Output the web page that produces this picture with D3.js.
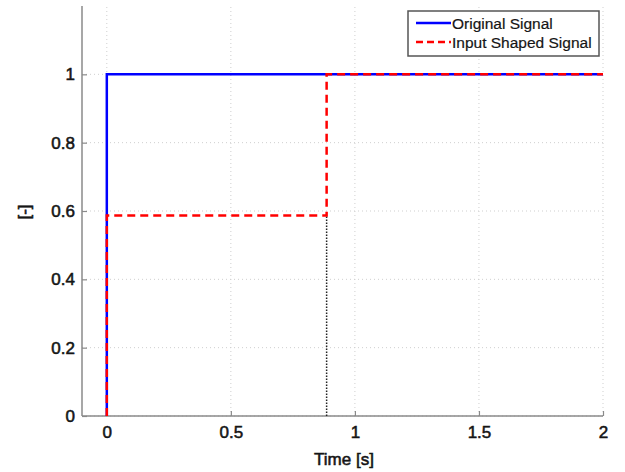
<!DOCTYPE html>
<html><head><meta charset="utf-8">
<script src="https://cdn.jsdelivr.net/npm/d3@7"></script>
<style>body{margin:0;background:#fff}svg{display:block}</style>
</head><body>
<svg id="c" width="625" height="472"></svg>
<script>
// Data
const xTicks = [0, 0.5, 1, 1.5, 2];
const xTickLabels = ["0", "0.5", "1", "1.5", "2"];
const yTicks = [0, 0.2, 0.4, 0.6, 0.8, 1];
const yTickLabels = ["0", "0.2", "0.4", "0.6", "0.8", "1"];
const originalT = [0, 0, 2];
const originalY = [0, 1, 1];
const shapedT = [0, 0, 0.886, 0.886, 2];
const shapedY = [0, 0.587, 0.587, 1, 1];
const markerT = [0.886, 0.886];
const markerY = [0, 0.587];
const seriesNames = ["Original Signal", "Input Shaped Signal"];

const svg = d3.select("#c");
const x = d3.scaleLinear().domain([-0.1, 2]).range([82, 603]);
const y = d3.scaleLinear().domain([0, 1.2]).range([416, 6]);
const font = "Arial, 'Liberation Sans', sans-serif";
const txt = "#151515";
const semibold = s => s.attr("fill", txt).attr("stroke", txt).attr("stroke-width", 0.55);

// grid
const grid = svg.append("g");
grid.selectAll("line.v").data(xTicks).join("line")
  .attr("x1", d => x(d)).attr("x2", d => x(d)).attr("y1", y(0)).attr("y2", y(1.2))
  .attr("stroke", "#cfcfcf").attr("stroke-width", 1).attr("stroke-dasharray", "1,3");
grid.selectAll("line.h").data(yTicks).join("line")
  .attr("y1", d => y(d)).attr("y2", d => y(d)).attr("x1", x(-0.1)).attr("x2", x(2))
  .attr("stroke", "#cfcfcf").attr("stroke-width", 1).attr("stroke-dasharray", "1,3");

// axes
const xAxis = d3.axisBottom(x).tickValues(xTicks).tickFormat((d, i) => xTickLabels[i]).tickSizeInner(-5).tickSizeOuter(0).tickPadding(10);
const gx = svg.append("g").attr("transform", `translate(0,${y(0)})`).call(xAxis);
const yAxis = d3.axisLeft(y).tickValues(yTicks).tickFormat((d, i) => yTickLabels[i]).tickSizeInner(-5).tickSizeOuter(0).tickPadding(7);
const gy = svg.append("g").attr("transform", `translate(${x(-0.1)},0)`).call(yAxis);
[gx, gy].forEach(g => {
  g.select(".domain").attr("stroke", "#8a8a8a").attr("stroke-width", 1.5);
  g.selectAll(".tick line").attr("stroke", "#8a8a8a").attr("stroke-width", 1.2);
  g.selectAll(".tick text").attr("font-family", font).attr("font-size", 17).call(semibold);
});
gx.select(".domain").attr("d", `M${x(-0.1)},0H${x(2)}`);
gy.select(".domain").attr("d", `M0,${y(0)}V${y(1.2)}`);

// lines
const line = d3.line().x(d => x(d[0])).y(d => y(d[1]));
const zip = (a, b) => a.map((v, i) => [v, b[i]]);
svg.append("path").attr("d", line(zip(markerT, markerY))).attr("fill", "none")
  .attr("stroke", "#222").attr("stroke-width", 1.5).attr("stroke-dasharray", "1.5,1.5");
svg.append("path").attr("d", line(zip(originalT, originalY))).attr("fill", "none")
  .attr("stroke", "#0000ff").attr("stroke-width", 2.5);
svg.append("path").attr("d", line(zip(shapedT, shapedY))).attr("fill", "none")
  .attr("stroke", "#ff0000").attr("stroke-width", 2.5).attr("stroke-dasharray", "8,5");

// labels
svg.append("text").attr("x", 344).attr("y", 465).attr("text-anchor", "middle")
  .attr("font-family", font).attr("font-size", 17).call(semibold).text("Time [s]");
svg.append("text").attr("transform", `translate(30,212) rotate(-90)`).attr("text-anchor", "middle")
  .attr("font-family", font).attr("font-size", 17).call(semibold).text("[-]");

// legend
const lg = svg.append("g");
lg.append("rect").attr("x", 408).attr("y", 11).attr("width", 191).attr("height", 45)
  .attr("fill", "#fff").attr("stroke", "#555").attr("stroke-width", 1.5);
const styles = [{c: "#0000ff", d: null}, {c: "#ff0000", d: "7,4"}];
seriesNames.forEach((n, i) => {
  const yy = 23 + i * 19;
  lg.append("line").attr("x1", 416).attr("x2", 451).attr("y1", yy).attr("y2", yy)
    .attr("stroke", styles[i].c).attr("stroke-width", 2.5).attr("stroke-dasharray", styles[i].d);
  lg.append("text").attr("x", 452).attr("y", yy).attr("dy", "0.36em")
    .attr("font-family", font).attr("font-size", 15.5).attr("fill", txt).attr("stroke", txt).attr("stroke-width", 0.2).text(n);
});
</script>
</body></html>
